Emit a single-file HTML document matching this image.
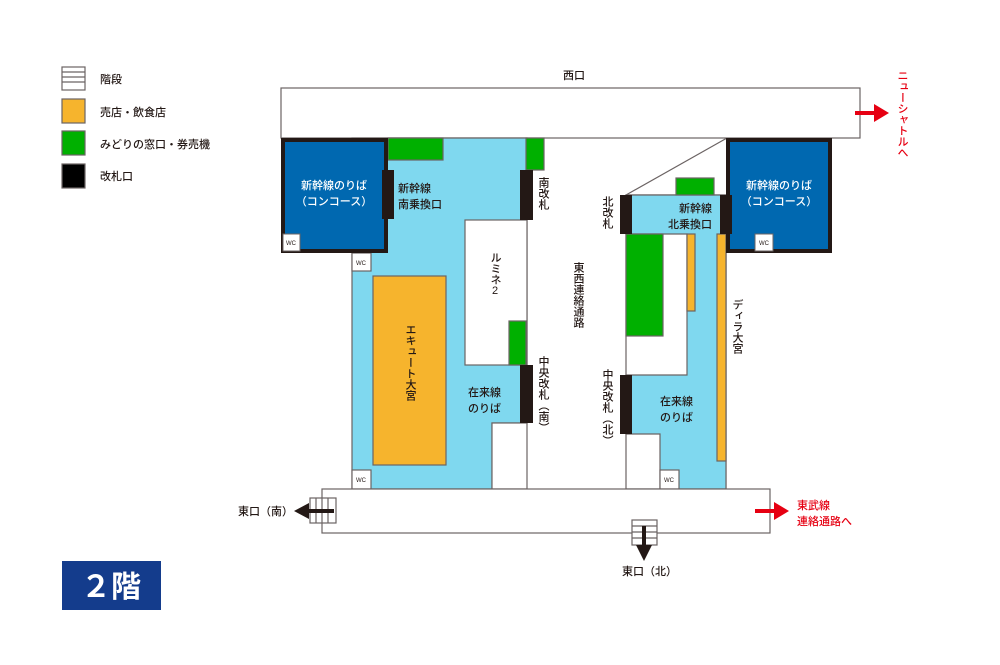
<!DOCTYPE html>
<html><head><meta charset="utf-8"><style>
body{margin:0;background:#fff}
svg{display:block;font-family:"Liberation Sans","Noto Sans CJK JP",sans-serif}
.v{writing-mode:vertical-rl}
.u{writing-mode:vertical-rl;text-orientation:upright}
</style></head><body>
<svg width="1000" height="665" viewBox="0 0 1000 665" xmlns="http://www.w3.org/2000/svg">
<g stroke="#6b6363" stroke-width="1.2">
<rect x="62" y="67" width="23" height="23" fill="#fff"/>
<line x1="62" y1="72" x2="85" y2="72"/><line x1="62" y1="77" x2="85" y2="77"/><line x1="62" y1="82" x2="85" y2="82"/>
<rect x="62" y="99" width="23" height="24" fill="#f6b42d"/>
<rect x="62" y="131" width="23" height="24" fill="#00b000"/>
<rect x="62" y="164" width="23" height="24" fill="#000"/>
<rect x="281" y="88" width="579" height="50" fill="#fff"/>
<polygon points="352,138 527,138 527,423 492,423 492,489 352,489" fill="#7fd8ef"/>
<rect x="465" y="220" width="62" height="145" fill="#fff"/>
<rect x="492" y="423" width="35" height="66" fill="#fff"/>
<rect x="388" y="138" width="55" height="22" fill="#00b000"/>
<rect x="526" y="138" width="18" height="32" fill="#00b000"/>
<rect x="509" y="321" width="17" height="44" fill="#00b000"/>
<rect x="373" y="276" width="73" height="189" fill="#f6b42d"/>
<rect x="352" y="253" width="19" height="18" fill="#fff"/>
<rect x="352" y="470" width="19" height="19" fill="#fff"/>
<line x1="727" y1="138" x2="626" y2="195"/>
<polygon points="626,195 726,195 726,489 626,489" fill="#fff"/>
<polygon points="626,195 726,195 726,489 660,489 660,434 626,434 626,375 687,375 687,234 626,234" fill="#7fd8ef"/>
<rect x="676" y="178" width="38" height="17" fill="#00b000"/>
<rect x="626" y="234" width="37" height="102" fill="#00b000"/>
<rect x="687" y="234" width="8" height="77" fill="#f6b42d"/>
<rect x="717" y="234" width="9" height="227" fill="#f6b42d"/>
<rect x="660" y="470" width="19" height="19" fill="#fff"/>
<rect x="322" y="489" width="448" height="44" fill="#fff"/>
<rect x="310" y="498" width="26" height="25" fill="#fff"/>
<line x1="316" y1="498" x2="316" y2="523"/><line x1="322" y1="498" x2="322" y2="523"/><line x1="328" y1="498" x2="328" y2="523"/>
<rect x="632" y="520" width="25" height="25" fill="#fff"/>
<line x1="632" y1="526" x2="657" y2="526"/><line x1="632" y1="532" x2="657" y2="532"/><line x1="632" y1="538" x2="657" y2="538"/>
</g>
<rect x="283" y="140" width="103" height="111" fill="#0068b0" stroke="#231815" stroke-width="4"/>
<rect x="728" y="140" width="102" height="111" fill="#0068b0" stroke="#231815" stroke-width="4"/>
<g stroke="#6b6363" stroke-width="1" fill="#fff">
<rect x="283" y="234" width="17" height="17"/>
<rect x="755" y="234" width="18" height="17"/>
</g>
<g fill="#231815">
<rect x="382" y="170" width="12" height="49"/>
<rect x="520" y="170" width="13" height="50"/>
<rect x="520" y="365" width="13" height="58"/>
<rect x="620" y="195" width="12" height="39"/>
<rect x="720" y="195" width="12" height="39"/>
<rect x="620" y="375" width="12" height="59"/>
</g>
<g fill="#231815" stroke="#231815">
<line x1="334" y1="511" x2="306" y2="511" stroke-width="4"/>
<polygon points="294,511 309,503 309,519" stroke="none"/>
<line x1="644" y1="526" x2="644" y2="550" stroke-width="4"/>
<polygon points="644,561 636,545 652,545" stroke="none"/>
</g>
<g fill="#e60012" stroke="#e60012">
<line x1="855" y1="113" x2="876" y2="113" stroke-width="4"/>
<polygon points="889,113 874,104 874,122" stroke="none"/>
<line x1="755" y1="511" x2="775" y2="511" stroke-width="4"/>
<polygon points="789,511 774,502 774,520" stroke="none"/>
</g>
<g font-size="11" fill="#231815" font-weight="500">
<text x="100" y="83">階段</text>
<text x="100" y="116">売店・飲食店</text>
<text x="100" y="148">みどりの窓口・券売機</text>
<text x="100" y="180">改札口</text>
<text x="563" y="79">西口</text>
<text x="398" y="192">新幹線</text>
<text x="398" y="208">南乗換口</text>
<text x="468" y="396">在来線</text>
<text x="468" y="412">のりば</text>
<text x="679" y="212">新幹線</text>
<text x="668" y="228">北乗換口</text>
<text x="660" y="405">在来線</text>
<text x="660" y="421">のりば</text>
<text x="238" y="515">東口（南）</text>
<text x="622" y="575">東口（北）</text>
<text class="v" x="543" y="177">南改札</text>
<text class="v" x="543" y="356">中央改札（南）</text>
<text class="v" x="607" y="196">北改札</text>
<text class="v" x="607" y="369">中央改札（北）</text>
<text class="v" x="578" y="262">東西連絡通路</text>
<text class="v" x="737" y="299">ディラ大宮</text>
<text class="u" x="495" y="252">ルミネ2</text>
<text class="v" x="410" y="324">エキュート大宮</text>
</g>
<g font-size="11" fill="#e60012" font-weight="500">
<text class="v" x="902" y="70">ニューシャトルへ</text>
<text x="797" y="509">東武線</text>
<text x="797" y="525">連絡通路へ</text>
</g>
<g font-size="11" fill="#fff" text-anchor="middle" font-weight="500">
<text x="334" y="189">新幹線のりば</text>
<text x="334" y="205">（コンコース）</text>
<text x="779" y="189">新幹線のりば</text>
<text x="779" y="205">（コンコース）</text>
</g>
<g font-size="6" fill="#231815" text-anchor="middle">
<text x="291" y="245">WC</text>
<text x="361" y="265">WC</text>
<text x="361" y="482">WC</text>
<text x="764" y="245">WC</text>
<text x="669" y="482">WC</text>
</g>
<rect x="62" y="561" width="99" height="49" fill="#143c8c"/>
<text x="111" y="597" font-size="30" font-weight="bold" fill="#fff" text-anchor="middle">２階</text>
</svg>
</body></html>
